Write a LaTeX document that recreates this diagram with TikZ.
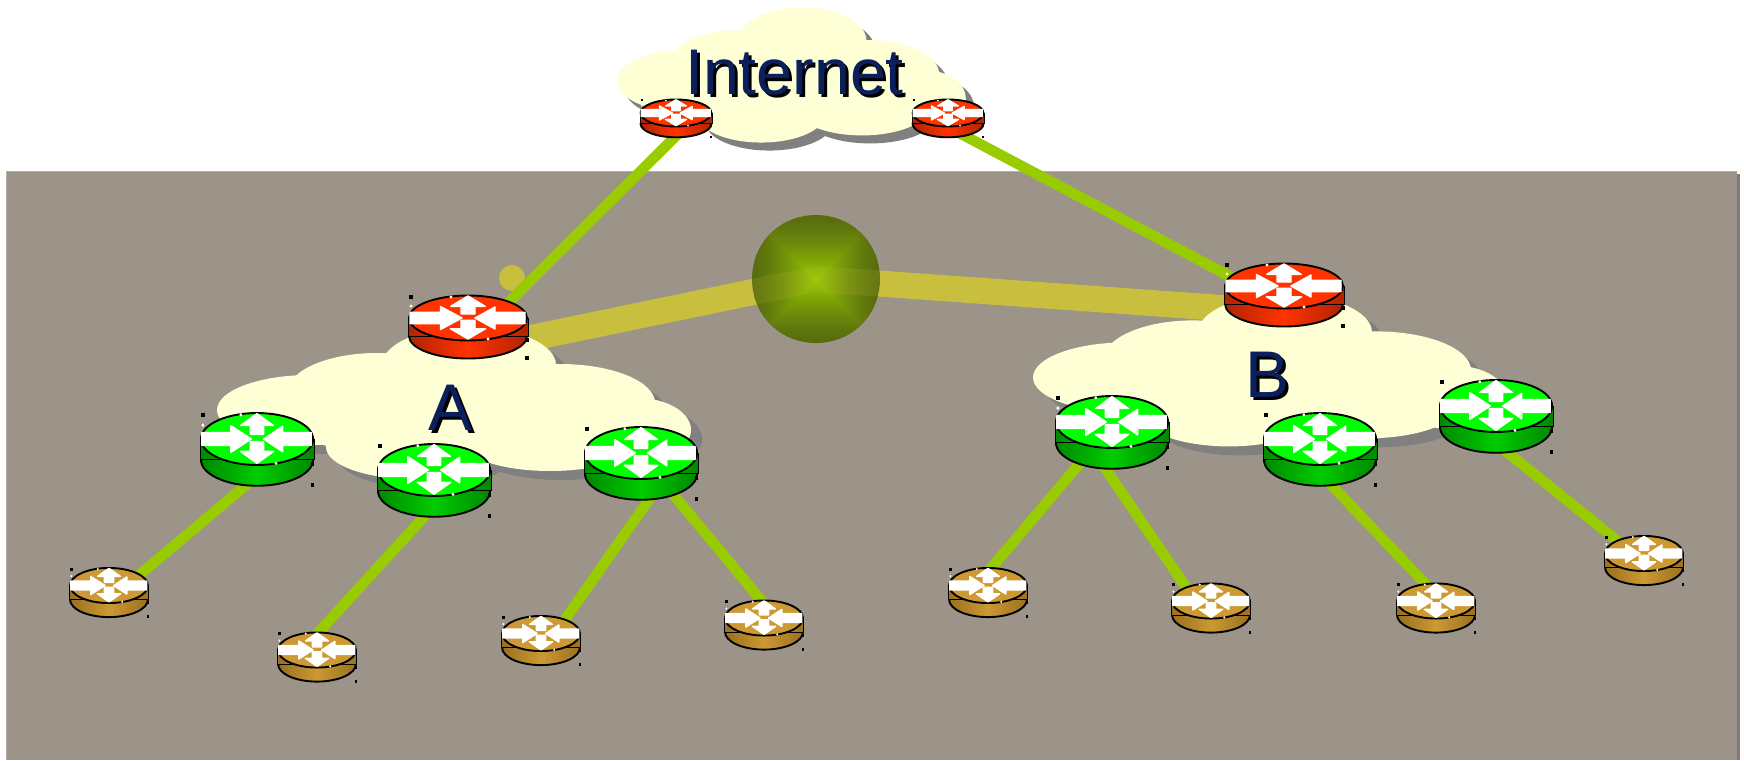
\documentclass[tikz,border=0pt]{standalone}
\usepackage{fontspec}
\setmainfont{Liberation Sans}
\definecolor{floorgrey}{RGB}{156,148,136}
\definecolor{flooredge}{RGB}{184,176,166}
\definecolor{floorshadow}{RGB}{128,122,120}
\definecolor{cloudcream}{RGB}{255,255,214}
\definecolor{cloudshadow}{RGB}{128,128,128}
\definecolor{linkgreen}{RGB}{153,204,0}
\definecolor{linkyellow}{RGB}{200,191,62}
\definecolor{ballouter}{RGB}{88,108,14}
\definecolor{labelblue}{RGB}{10,31,92}
\definecolor{redtop}{RGB}{255,51,0}
\definecolor{reddark}{RGB}{176,36,0}
\definecolor{greentop}{RGB}{0,255,0}
\definecolor{greendark}{RGB}{0,136,0}
\definecolor{greenmid}{RGB}{0,204,0}
\definecolor{goldtop}{RGB}{204,153,51}
\definecolor{golddark}{RGB}{153,112,32}
\colorlet{redmid}{redtop}
\colorlet{goldmid}{goldtop}

\tikzset{
  link/.style={linkgreen,line width=10.5},
  trunk/.style={linkyellow,line width=26},
  regionlabel/.style={inner sep=0},
  arrowshape/.style={fill=white,draw=white,line width=1.4,line join=round},
  greensize/.style={xscale=0.95,yscale=1.155},
  goldsize/.style={xscale=0.66,yscale=0.78},
  edgesize/.style={xscale=0.6,yscale=0.6},
  pics/cloud/.style={code={
    \foreach \dx/\dy/\fillcol in {11/9/cloudshadow,0/0/cloudcream}
      \foreach \cx/\cy/\rx/\ry in {-144/8/93/35,-77/-9/90/40,15/-37/87/38,106/1/95/39,183/28/54/32,-41/45/87/32,96/38/90/31,-4/13/170/45}
        \fill[\fillcol] (\cx+\dx,\cy+\dy) ellipse[x radius=\rx,y radius=\ry];
  }},
  pics/router/.style={code={
    % body
    \shade[left color=#1dark,right color=#1dark,middle color=#1mid,draw=black,line width=1.9]
      (0,18) ellipse[x radius=59,y radius=22.5];
    \shade[left color=#1dark,right color=#1dark,middle color=#1mid] (-60,0) rectangle (60,18);
    \draw[black,line width=0.7] (-60,0) -- (-60,18) -- (60,18) -- (60,0);
    \fill[#1top,draw=black,line width=1.9] (0,0) ellipse[x radius=59,y radius=22.5];
    % arrows
    \path[arrowshape] (-58,-5.6) -- (-27.5,-5.6) -- (-27.5,-11.5) -- (-6,0) -- (-27.5,11.5) -- (-27.5,5.6) -- (-58,5.6) -- cycle;
    \path[arrowshape] (57,-5.6) -- (27,-5.6) -- (27,-11) -- (7,0) -- (27,11) -- (27,5.6) -- (57,5.6) -- cycle;
    \path[arrowshape] (0,-22) -- (17.2,-11.7) -- (7,-11.7) -- (7,-4) -- (-7,-4) -- (-7,-11.7) -- (-17.2,-11.7) -- cycle;
    \path[arrowshape] (0,21) -- (17.6,10.7) -- (7,10.7) -- (7,2.3) -- (-7,2.3) -- (-7,10.7) -- (-17.6,10.7) -- cycle;
    % handles
    \foreach \hx/\hy in {-57/-21,58.7/22,58.7/40}
      \fill[black] (\hx,\hy) +(-1.8,-1.8) rectangle +(1.8,1.8);
    \foreach \hx/\hy in {-17/-21,-57/-12,20/21}
      \fill[white] (\hx,\hy) circle[radius=1.6];
  }}
}

\begin{document}
\begin{tikzpicture}[x=1pt,y=-1pt]
\useasboundingbox (0,0) rectangle (1744,760);
\fill[white] (0,0) rectangle (1744,760);

% Floor
\fill[floorshadow] (1737,174) rectangle (1740,760);
\fill[floorgrey] (6,171) rectangle (1737,760);
\draw[flooredge,line width=1] (6,760) -- (6,171) -- (1737,171);

% Router positions and link ends
\foreach \name/\x/\y in {rI/676/113,rJ/948/113,rA/468/318,rB/1284/286,
    gA/257/439,gB/434/470,gC/641/453,gD/1112/422,gE/1320/439,gF/1496/406,
    lA/109/585.5,lB/317/650,lC/541/633.5,lD/764/618,lE/988/585.5,lF/1211/601,lG/1436/601,lH/1644/553.5,
    ball/816/279,rAbase/468/351,rBbase/1284/312.5,
    rItail/690/122,rJtail/948/127,rAhead/500/311,rBhead/1250/287,
    gAfoot/258/475,gBfoot/434/506,gCfoot/662/481,gDfoot/1092/449,gEfoot/1320/473,gFfoot/1497/444,
    lAfoot/125/587,lBfoot/306/646,lCfoot/559/628,lDfoot/770/611,lEfoot/982/579,lFfoot/1192/596,lGfoot/1434/593,lHfoot/1625/547}
  \coordinate (\name) at (\x,\y);

% Trunk to the exchange
\fill[linkyellow] (512,278) circle[radius=13];
\draw[trunk] (rAbase) -- (ball);
\draw[trunk] (ball) -- (rBbase);

% Exchange ball
\begin{scope}
  \clip (ball) circle[radius=64];
  \foreach \i [evaluate=\i as \p using {100*(1-\i/64)^1.35}] in {64,62,...,2}
    \fill[linkgreen!\p!ballouter] (ball) +(-\i,-\i) rectangle +(\i,\i);
  \draw[trunk,opacity=0.14,line join=round] (rAbase) -- (ball) -- (rBbase);
\end{scope}

% Clouds
\pic at (454,402) {cloud};
\pic at (1270,369.4) {cloud};
\pic[xscale=0.736,yscale=0.89] at (791.4,74) {cloud};

% Links
\foreach \from/\to in {rItail/rAhead,rJtail/rBhead,gAfoot/lAfoot,gBfoot/lBfoot,gCfoot/lCfoot,gCfoot/lDfoot,
    gDfoot/lEfoot,gDfoot/lFfoot,gEfoot/lGfoot,gFfoot/lHfoot}
  \draw[link] (\from) -- (\to);

% Routers
\foreach \r in {rA,rB}
  \pic at (\r) {router=red};
\foreach \r in {rI,rJ}
  \pic[edgesize] at (\r) {router=red};
\foreach \r in {gA,gB,gC,gD,gE,gF}
  \pic[greensize] at (\r) {router=green};
\foreach \r in {lA,lB,lC,lD,lE,lF,lG,lH}
  \pic[goldsize] at (\r) {router=gold};

% Labels
\foreach \name/\x/\y/\txt/\size in {inet/794.5/73/Internet/64.5,regA/451/408/A/66,regB/1267/375/B/66} {
  \node[regionlabel,font=\fontsize{\size}{\size}\selectfont,black] (\name shadow) at (\x+3,\y+3) {\txt};
  \node[regionlabel,font=\fontsize{\size}{\size}\selectfont,labelblue] (\name) at (\x,\y) {\txt};
}
\end{tikzpicture}
\end{document}
